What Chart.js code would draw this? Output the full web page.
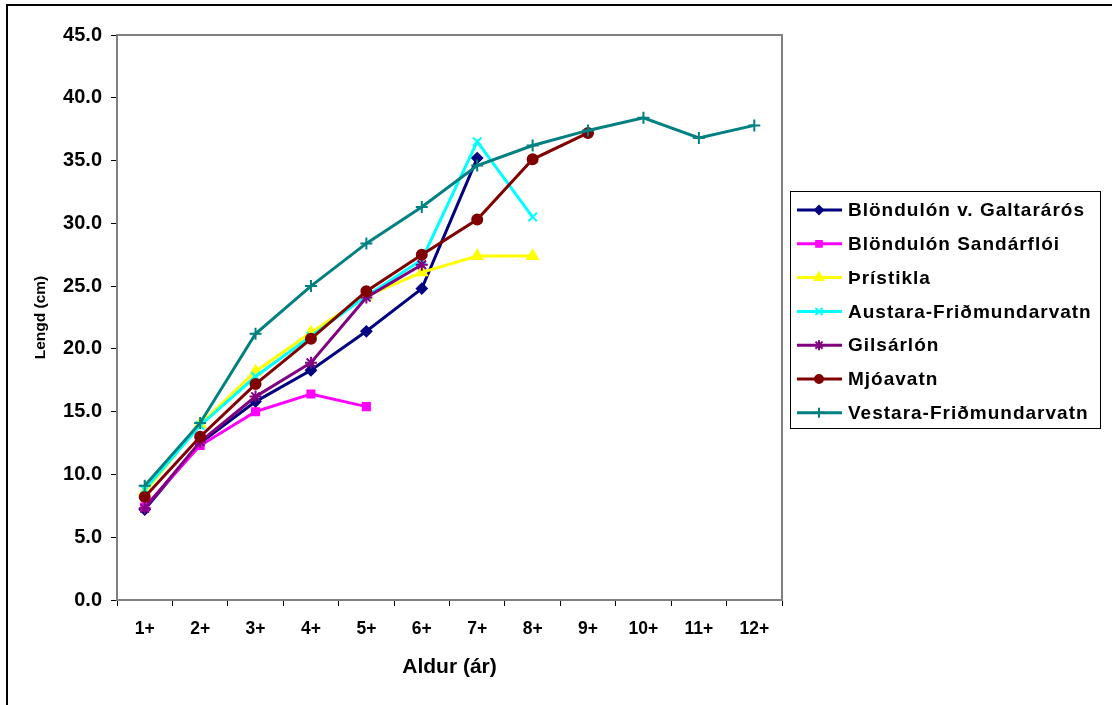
<!DOCTYPE html>
<html>
<head>
<meta charset="UTF-8">
<title>Lengd eftir aldri</title>
<script src="https://cdn.jsdelivr.net/npm/chart.js"></script>
<style>
* {padding: 0; margin: 0;}
body {background: #fff;}
canvas {display: block;}
</style>
</head>
<body>
<canvas id="myChart" width="1112" height="705"></canvas>
<script>
// aldursflokkar (x-ás)
const aldur = ['1+', '2+', '3+', '4+', '5+', '6+', '7+', '8+', '9+', '10+', '11+', '12+'];

// meðallengd (cm) eftir aldri, lesið af mynd
const galtararos = [7.2, 12.5, 15.8, 18.3, 21.4, 24.8, 35.2];
const sandarfloi = [7.4, 12.3, 15.0, 16.4, 15.4];
const thristikla = [8.6, 14.0, 18.2, 21.3, 24.2, 26.1, 27.4, 27.4];
const austara = [8.8, 13.9, 17.8, 21.0, 24.2, 27.1, 36.5, 30.5];
const gilsarlon = [7.3, 12.6, 16.2, 18.9, 24.1, 26.7];
const mjoavatn = [8.2, 13.0, 17.2, 20.8, 24.6, 27.5, 30.3, 35.1, 37.2];
const vestara = [9.1, 14.1, 21.2, 25.0, 28.4, 31.3, 34.6, 36.2, 37.4, 38.4, 36.8, 37.8];

const yTicks = [0, 5, 10, 15, 20, 25, 30, 35, 40, 45];

const font = 'Arial, "Liberation Sans", sans-serif';

function lina(label, data, color, style, radius) {
	return {
		label: label,
		data: data,
		borderColor: color,
		backgroundColor: color,
		borderWidth: 3,
		pointStyle: style,
		pointRadius: radius,
		pointBorderWidth: 2,
		pointHoverRadius: radius,
		tension: 0,
		fill: false
	};
}

const datasets = [
	lina('Blöndulón v. Galtarárós', galtararos, '#000080', 'rectRot', 5),
	lina('Blöndulón Sandárflói', sandarfloi, '#ff00ff', 'rect', 5),
	lina('Þrístikla', thristikla, '#ffff00', 'triangle', 6),
	lina('Austara-Friðmundarvatn', austara, '#00ffff', 'crossRot', 6),
	lina('Gilsárlón', gilsarlon, '#800080', 'star', 6),
	lina('Mjóavatn', mjoavatn, '#800000', 'circle', 5),
	lina('Vestara-Friðmundarvatn', vestara, '#008080', 'cross', 6)
];
// seinni raðir teiknast ofan á
datasets.forEach((d, i) => d.order = datasets.length - i);

// rammi utan um mynd og teiknisvæði
const rammi = {
	id: 'rammi',
	beforeDatasetsDraw(chart) {
		const c = chart.ctx, a = chart.chartArea;
		c.save();
		c.strokeStyle = '#808080';
		c.lineWidth = 2;
		c.strokeRect(a.left, a.top, a.right - a.left, a.bottom - a.top);
		c.restore();
	},
	afterDraw(chart) {
		const c = chart.ctx;
		c.save();
		c.strokeStyle = '#000';
		c.lineWidth = 2;
		c.beginPath();
		c.moveTo(7, 705);
		c.lineTo(7, 5);
		c.lineTo(1112, 5);
		c.stroke();
		c.restore();
	}
};

// skýringar (lína + tákn) í kassa til hægri
const skyringar = {
	id: 'skyringar',
	afterDraw(chart) {
		const c = chart.ctx;
		const x0 = 790, y0 = 191, w = 310, h = 237;
		c.save();
		c.fillStyle = '#fff';
		c.fillRect(x0, y0, w, h);
		c.strokeStyle = '#000';
		c.lineWidth = 1;
		c.strokeRect(x0 + 0.5, y0 + 0.5, w, h);
		c.font = 'bold 19px ' + font;
		c.letterSpacing = '1px';
		c.textBaseline = 'middle';
		chart.data.datasets.forEach((d, i) => {
			const y = 210 + i * 33.8;
			c.strokeStyle = d.borderColor;
			c.lineWidth = 3;
			c.beginPath();
			c.moveTo(797, y);
			c.lineTo(842, y);
			c.stroke();
			c.fillStyle = d.backgroundColor;
			c.lineWidth = 2;
			Chart.helpers.drawPoint(c, {pointStyle: d.pointStyle, radius: d.pointRadius - 1, borderWidth: 2, rotation: 0}, 819, y);
			c.fillStyle = '#000';
			c.fillText(d.label, 848, y + 1);
		});
		c.restore();
	}
};

new Chart(document.getElementById('myChart'), {
	type: 'line',
	data: {
		labels: aldur,
		datasets: datasets
	},
	options: {
		responsive: false,
		animation: false,
		events: [],
		layout: {padding: {left: 0, top: 35, right: 330, bottom: 0}},
		plugins: {
			legend: {display: false},
			tooltip: {enabled: false}
		},
		scales: {
			x: {
				offset: true,
				grid: {offset: true, drawOnChartArea: false, tickLength: 6, color: '#000', lineWidth: 1},
				border: {color: '#000', width: 2},
				ticks: {color: '#000', font: {family: font, size: 17.5, weight: 'bold'}, padding: 13, maxRotation: 0, autoSkip: false},
				title: {display: true, text: 'Aldur (ár)', color: '#000', font: {family: font, size: 21, weight: 'bold'}, padding: {top: 0, bottom: 25}},
				afterFit(s) { s.height = 105; }
			},
			y: {
				min: 0,
				max: 45,
				afterBuildTicks(s) { s.ticks = yTicks.map(v => ({value: v})); },
				grid: {drawOnChartArea: false, tickLength: 6, color: '#000', lineWidth: 1},
				border: {color: '#000', width: 2},
				ticks: {color: '#000', font: {family: font, size: 20, weight: 'bold'}, padding: 9, callback: v => v.toFixed(1)},
				title: {display: true, text: 'Lengd (cm)', color: '#000', font: {family: font, size: 15.5, weight: 'bold'}, padding: {top: 31, bottom: 0}},
				afterFit(s) { s.width = 117; }
			}
		}
	},
	plugins: [rammi, skyringar]
});
</script>
</body>
</html>
